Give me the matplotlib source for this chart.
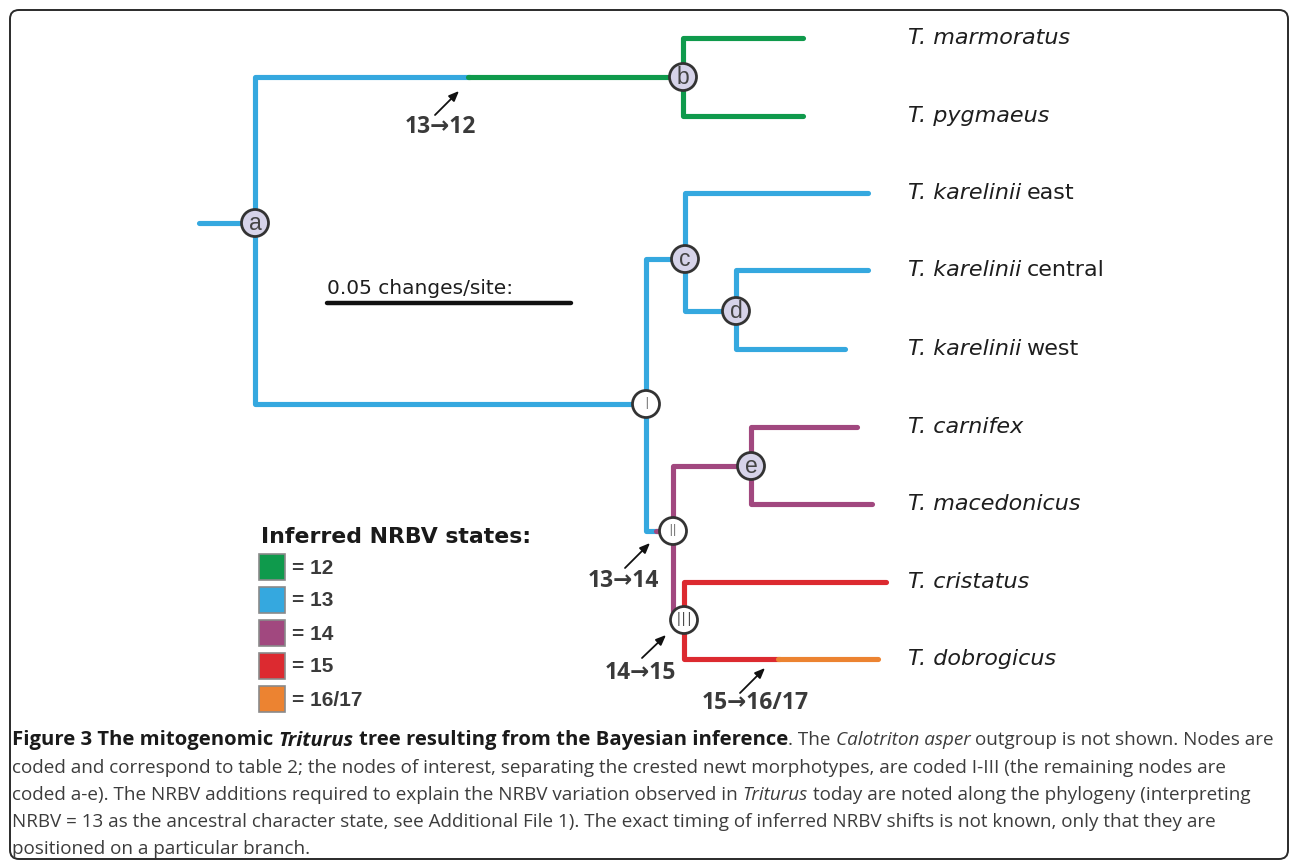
import matplotlib
matplotlib.use("Agg")
import matplotlib.pyplot as plt
from matplotlib.patches import Circle, Rectangle, FancyBboxPatch

# ---------------- data ----------------
# tree nodes: name -> (x, y) position in the drawing (branch depth, row)
node_names = ["root", "a", "b", "I", "c", "d", "II", "e", "III"]
node_x = [199, 255, 683, 646, 685, 736, 673, 751, 684]
node_y = [223, 223, 77, 404, 259, 311, 531, 466, 620]
node_labels = ["", "a", "b", "I", "c", "d", "II", "e", "III"]
node_kind = ["none", "letter", "letter", "roman", "letter", "letter", "roman", "letter", "roman"]

# leaves
leaf_names = ["T. marmoratus", "T. pygmaeus", "T. karelinii east", "T. karelinii central",
              "T. karelinii west", "T. carnifex", "T. macedonicus", "T. cristatus", "T. dobrogicus"]
leaf_x = [803, 803, 868, 868, 845, 857, 872, 886, 878]
leaf_y = [38, 116, 193, 270, 349, 427, 504, 582, 659]
leaf_parent = ["b", "b", "c", "d", "d", "e", "e", "III", "III"]
leaf_state = ["12", "12", "13", "13", "13", "14", "14", "15", "15"]
leaf_state_end = ["12", "12", "13", "13", "13", "14", "14", "15", "16/17"]
leaf_change_x = [None, None, None, None, None, None, None, None, 778]

# internal edges: parent, child, start state, end state, change position
edge_parent = ["root", "a", "a", "I", "c", "I", "II", "II"]
edge_child = ["a", "b", "I", "c", "d", "II", "e", "III"]
edge_state = ["13", "13", "13", "13", "13", "13", "14", "14"]
edge_state_end = ["13", "12", "13", "13", "13", "14", "14", "14"]
edge_change_x = [None, 468, None, None, None, 656, None, None]

states = ["12", "13", "14", "15", "16/17"]
state_colors = ["#0f9a4c", "#35a8df", "#a1487f", "#dc2a30", "#ec8331"]

# state-change annotations
change_labels = ["13\u219212", "13\u219214", "14\u219215", "15\u219216/17"]
change_text_xy = [(440, 127), (623, 581), (640, 673), (755, 703)]
change_arrow_from = [(435, 115), (625, 568), (642, 658), (740, 693)]
change_arrow_to = [(459, 91), (650, 543), (666, 635), (765, 668)]

scale_value_label = "0.05 changes/site:"
scale_bar = (327, 571, 303)

legend_title = "Inferred NRBV states:"

caption_lines = [
    [("Figure 3 The mitogenomic ", "bold", "normal"), ("Triturus", "bold", "italic"),
     (" tree resulting from the Bayesian inference", "bold", "normal"),
     (". The ", "normal", "normal"), ("Calotriton asper", "normal", "italic"),
     (" outgroup is not shown. Nodes are", "normal", "normal")],
    [("coded and correspond to table 2; the nodes of interest, separating the crested newt "
      "morphotypes, are coded I-III (the remaining nodes are", "normal", "normal")],
    [("coded a-e). The NRBV additions required to explain the NRBV variation observed in ",
      "normal", "normal"), ("Triturus", "normal", "italic"),
     (" today are noted along the phylogeny (interpreting", "normal", "normal")],
    [("NRBV = 13 as the ancestral character state, see Additional File 1). The exact timing "
      "of inferred NRBV shifts is not known, only that they are", "normal", "normal")],
    [("positioned on a particular branch.", "normal", "normal")],
]
caption_y = [738, 766, 793, 820, 847]

# ---------------- drawing ----------------
W, H = 1290, 861
fig = plt.figure(figsize=(W / 100, H / 100), dpi=100)
ax = fig.add_axes([0, 0, 1, 1])
ax.set_xlim(0, W)
ax.set_ylim(H, 0)
ax.axis("off")

col = dict(zip(states, state_colors))
pos = {n: (x, y) for n, x, y in zip(node_names, node_x, node_y)}
LW = 3.7


def draw_branch(px, py, cx, cy, s0, s1, chx):
    # vertical at parent x, then horizontal to child
    if chx is None:
        ax.plot([px, px, cx], [py, cy, cy], color=col[s0], lw=LW,
                solid_capstyle="round", solid_joinstyle="round", zorder=2)
    else:
        ax.plot([px, px, chx], [py, cy, cy], color=col[s0], lw=LW,
                solid_capstyle="butt", solid_joinstyle="round", zorder=2)
        ax.plot([chx, cx], [cy, cy], color=col[s1], lw=LW,
                solid_capstyle="round", zorder=2)
        ax.plot([chx, chx + 2], [cy, cy], color=col[s1], lw=LW,
                solid_capstyle="butt", zorder=2)


for p, c, s0, s1, chx in zip(edge_parent, edge_child, edge_state, edge_state_end, edge_change_x):
    px, py = pos[p]
    cx, cy = pos[c]
    if p == "root":
        ax.plot([px, cx], [py, cy], color=col[s0], lw=LW, solid_capstyle="round", zorder=2)
    else:
        draw_branch(px, py, cx, cy, s0, s1, chx)

for name, lx, ly, par, s0, s1, chx in zip(leaf_names, leaf_x, leaf_y, leaf_parent,
                                          leaf_state, leaf_state_end, leaf_change_x):
    px, py = pos[par]
    draw_branch(px, py, lx, ly, s0, s1, chx)

# node circles
for n, lab, kind in zip(node_names, node_labels, node_kind):
    if kind == "none":
        continue
    x, y = pos[n]
    fc = "#d6d3e9" if kind == "letter" else "white"
    ax.add_patch(Circle((x, y), 13.5, facecolor=fc, edgecolor="#333333", lw=2.0, zorder=5))
    if kind == "letter":
        ax.text(x, y + 0.5, lab, ha="center", va="center", fontsize=16.5,
                family="Liberation Sans", color="#444444", zorder=6)
    else:
        fs = 14 if lab == "III" else 11
        ax.text(x, y + 0.5, lab, ha="center", va="center", fontsize=fs,
                family="DejaVu Sans", fontweight="light", color="#333333", zorder=6)

fig.canvas.draw()
renderer = fig.canvas.get_renderer()

# leaf labels
LEAF_FS = 16
for name, ly in zip(leaf_names, leaf_y):
    parts = name.split(" ")
    genus = parts[0] + " " + parts[1]
    rest = " ".join(parts[2:])
    t = ax.text(908, ly, genus, ha="left", va="center", fontsize=LEAF_FS, style="italic",
                family="DejaVu Sans", color="#1e1e1e")
    if rest:
        bb = t.get_window_extent(renderer)
        ax.text(bb.x1 + 5, ly, rest, ha="left", va="center", fontsize=LEAF_FS,
                family="DejaVu Sans", color="#1e1e1e")

# change annotations
for lab, (tx, ty), (fx, fy), (tox, toy) in zip(change_labels, change_text_xy,
                                                 change_arrow_from, change_arrow_to):
    ax.annotate("", xy=(tox, toy), xytext=(fx, fy),
                arrowprops=dict(arrowstyle="-|>,head_length=0.6,head_width=0.25",
                                color="#111111", lw=1.3, shrinkA=0, shrinkB=0))
    ax.text(tx, ty, lab, ha="center", va="center", fontsize=16.5, fontweight="bold",
            family=["Open Sans", "DejaVu Sans"], color="#3a3a3a")

# scale bar
x0, x1, sy = scale_bar
ax.plot([x0, x1], [sy, sy], color="#111111", lw=3.2, solid_capstyle="round")
ax.text(x0, sy - 15, scale_value_label, ha="left", va="center", fontsize=14.5,
        family="DejaVu Sans", color="#1e1e1e")

# legend
ax.text(261, 537, legend_title, ha="left", va="center", fontsize=15.8, fontweight="bold",
        family="DejaVu Sans", color="#1a1a1a")
for i, (s, c) in enumerate(zip(states, state_colors)):
    yc = 567 + 33 * i
    ax.add_patch(Rectangle((259, yc - 13), 26, 26, facecolor=c, edgecolor="#8a8a8a", lw=1.2))
    ax.text(292, yc + 1, "= " + s, ha="left", va="center", fontsize=15, fontweight="bold",
            family="Liberation Sans", color="#3a3a3a")

# frame
ax.add_patch(FancyBboxPatch((10, 10), 1278, 849, boxstyle="round,pad=0,rounding_size=9",
                            facecolor="none", edgecolor="#2a2a2a", lw=1.4, zorder=1))

# caption
CAP_X0 = 12.0


def text_width(s, weight, style, fs):
    t = ax.text(0, 0, s, fontsize=fs, fontweight=weight, style=style,
                family="Open Sans", transform=None)
    w = t.get_window_extent(renderer).width
    t.remove()
    return w


def layout_line(runs, fs_n, fs_b, ypix=None):
    x = CAP_X0
    for s, weight, style in runs:
        fs = fs_b if weight == "bold" else fs_n
        lead = len(s) - len(s.lstrip(" "))
        trail = len(s) - len(s.rstrip(" "))
        sw = text_width("a a", weight, style, fs) - text_width("aa", weight, style, fs)
        x += lead * sw
        core = s.strip(" ")
        if ypix is None:
            x += text_width(core, weight, style, fs) + trail * sw
        else:
            colr = "#1a1a1a" if weight == "bold" else "#3c3c3c"
            t = ax.text(x, ypix, core, fontsize=fs, fontweight=weight, style=style,
                        family="Open Sans", color=colr, transform=None, ha="left",
                        va="center_baseline")
            x += t.get_window_extent(renderer).width + trail * sw
    return x


# normal text size from line 2 (ends near x=1228), bold size from line 1 bold part
base = 11.0
wn = layout_line(caption_lines[1], base, base) - CAP_X0
FS_N = base * (1228 - CAP_X0) / wn
wb = layout_line(caption_lines[0][:3], base, base) - CAP_X0
FS_B = base * (786 - CAP_X0) / wb

for runs, cy in zip(caption_lines, caption_y):
    layout_line(runs, FS_N, FS_B, H - cy)

fig.savefig("out.png", dpi=100)
